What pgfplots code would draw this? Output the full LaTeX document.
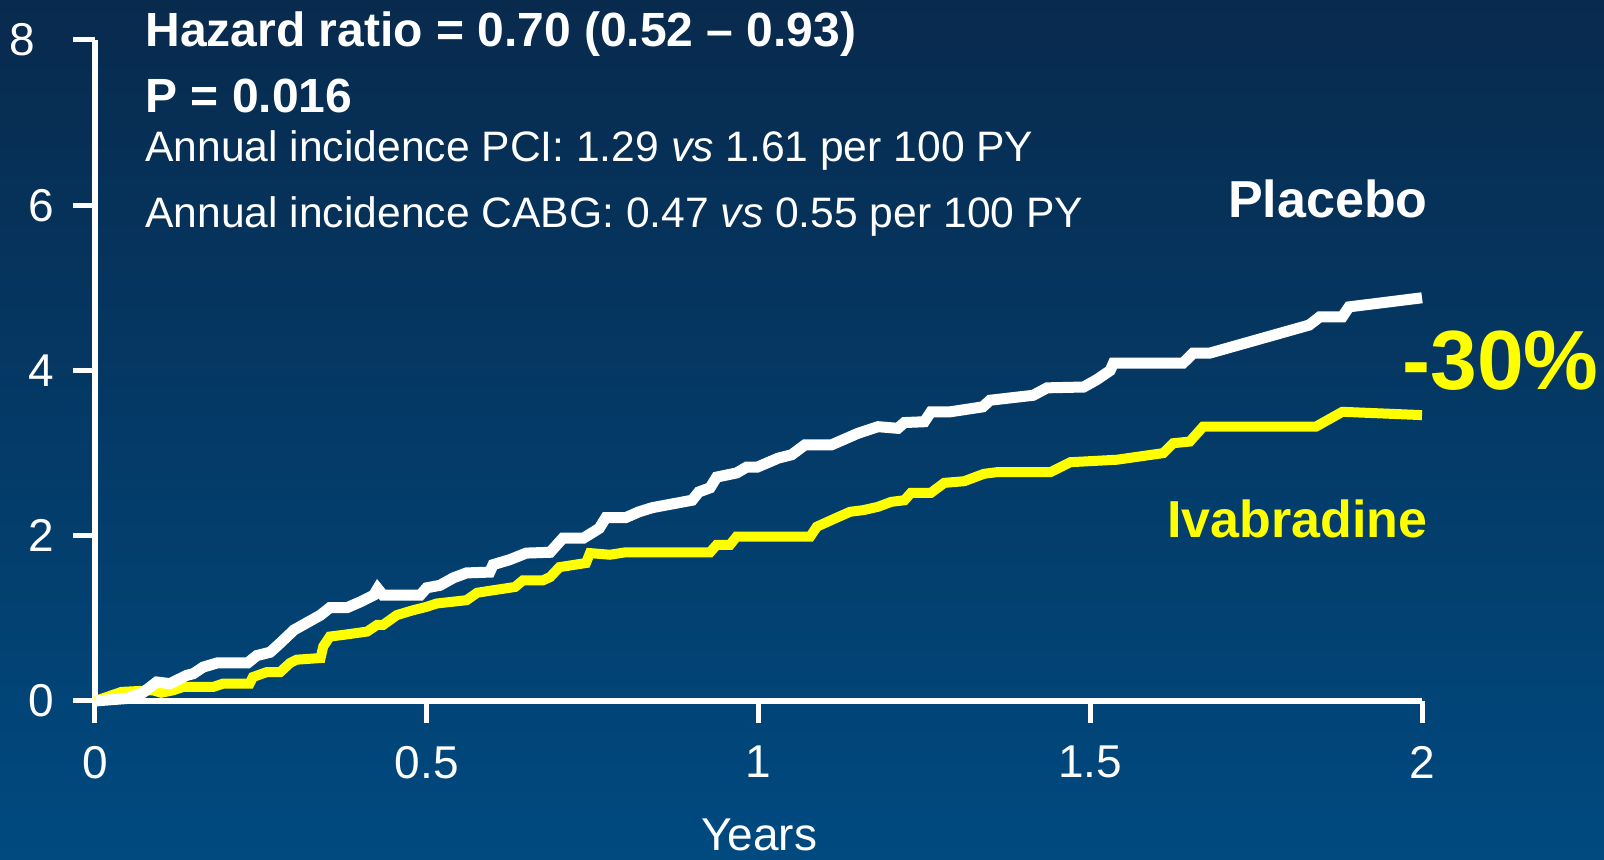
\documentclass[border=0pt]{standalone}
\usepackage{fontspec}
\setmainfont{Liberation Sans}
\usepackage{pgfplots}
\pgfplotsset{compat=1.18}
\definecolor{bgtop}{HTML}{082A4D}
\definecolor{bgmid}{HTML}{023F70}
\definecolor{bgbot}{HTML}{004A80}
\definecolor{ivy}{HTML}{FFFF00}
\begin{document}
\begin{tikzpicture}
\path[use as bounding box] (0,0) rectangle (802pt,430pt);
\shade[top color=bgtop, middle color=bgmid, bottom color=bgbot] (0,0) rectangle (802pt,430pt);
\clip (0,0) rectangle (802pt,430pt);
\begin{axis}[
  at={(47.5pt,79.5pt)}, anchor=south west,
  scale only axis, width=663.5pt, height=330.5pt,
  xmin=0, xmax=2, ymin=0, ymax=8, enlargelimits=false,
  axis lines=left,
  axis line style={white, line width=3pt, -},
  xtick={0,0.5,1,1.5,2}, ytick={0,2,4,6},
  extra y ticks={8},
  extra y tick style={yticklabel style={xshift=-9.5pt}},
  tick align=outside, major tick length=11pt,
  tick style={white, line width=2.5pt},
  /pgf/number format/assume math mode=true,
  ticklabel style={font=\fontsize{23}{27}\selectfont, text=white},
  xticklabel style={/pgf/number format/fixed, yshift=-8pt},
  yticklabel style={xshift=-6pt},
  clip=false,
]
\addplot[ivy, line width=5pt] coordinates {
(0,0) (0.04,0.11) (0.087,0.13) (0.10,0.10) (0.118,0.13) (0.133,0.17) (0.178,0.17) (0.193,0.21) (0.233,0.21) (0.238,0.29) (0.259,0.35) (0.279,0.35) (0.294,0.46) (0.304,0.50) (0.34,0.52) (0.344,0.66) (0.354,0.78) (0.374,0.80) (0.41,0.84) (0.425,0.92) (0.434,0.92) (0.455,1.04) (0.48,1.10) (0.50,1.14) (0.515,1.18) (0.56,1.22) (0.576,1.31) (0.60,1.34) (0.633,1.38) (0.645,1.46) (0.675,1.46) (0.686,1.50) (0.70,1.62) (0.74,1.67) (0.746,1.79) (0.776,1.77) (0.80,1.80) (0.927,1.80) (0.937,1.89) (0.957,1.89) (0.967,1.99) (1.078,1.99) (1.088,2.11) (1.11,2.19) (1.138,2.29) (1.158,2.31) (1.18,2.35) (1.20,2.41) (1.22,2.43) (1.23,2.52) (1.26,2.52) (1.28,2.64) (1.31,2.66) (1.34,2.75) (1.36,2.77) (1.44,2.77) (1.47,2.89) (1.54,2.92) (1.61,3.0) (1.625,3.12) (1.65,3.14) (1.67,3.32) (1.84,3.32) (1.88,3.50) (2.0,3.46)
};
\addplot[white, line width=5.5pt] coordinates {
(0,0) (0.048,0.03) (0.072,0.10) (0.093,0.23) (0.113,0.21) (0.138,0.31) (0.148,0.33) (0.163,0.41) (0.184,0.46) (0.23,0.46) (0.244,0.55) (0.264,0.59) (0.279,0.70) (0.30,0.86) (0.34,1.04) (0.354,1.13) (0.38,1.13) (0.40,1.20) (0.42,1.28) (0.426,1.36) (0.434,1.28) (0.49,1.28) (0.50,1.37) (0.52,1.40) (0.54,1.49) (0.56,1.55) (0.595,1.56) (0.60,1.65) (0.625,1.71) (0.65,1.79) (0.686,1.80) (0.705,1.97) (0.736,1.97) (0.76,2.09) (0.77,2.22) (0.80,2.22) (0.82,2.29) (0.84,2.34) (0.90,2.43) (0.91,2.53) (0.927,2.58) (0.937,2.71) (0.967,2.76) (0.982,2.83) (0.998,2.83) (1.03,2.94) (1.05,2.98) (1.07,3.10) (1.11,3.10) (1.15,3.24) (1.18,3.32) (1.21,3.30) (1.22,3.37) (1.25,3.38) (1.26,3.50) (1.289,3.50) (1.338,3.56) (1.349,3.64) (1.414,3.70) (1.435,3.79) (1.49,3.80) (1.51,3.89) (1.53,4.0) (1.535,4.09) (1.64,4.09) (1.655,4.21) (1.68,4.21) (1.83,4.55) (1.846,4.65) (1.88,4.65) (1.89,4.77) (2.0,4.88)
};
\end{axis}
\node[anchor=base west, inner sep=0, text=white, font=\fontsize{24}{28}\selectfont\bfseries] at (72.5pt,406.5pt) {Hazard ratio = 0.70 (0.52 – 0.93)};
\node[anchor=base west, inner sep=0, text=white, font=\fontsize{24}{28}\selectfont\bfseries] at (72.5pt,373.5pt) {P = 0.016};
\node[anchor=base west, inner sep=0, text=white, font=\fontsize{21.3}{25}\selectfont] at (72.5pt,349pt) {Annual incidence PCI: 1.29 \textit{vs} 1.61 per 100 PY};
\node[anchor=base west, inner sep=0, text=white, font=\fontsize{21.3}{25}\selectfont] at (72.5pt,316pt) {Annual incidence CABG: 0.47 \textit{vs} 0.55 per 100 PY};
\node[anchor=base east, inner sep=0, text=white, font=\fontsize{26}{30}\selectfont\bfseries] at (714pt,321pt) {Placebo};
\node[anchor=base west, inner sep=0, text=ivy, font=\fontsize{42}{46}\selectfont\bfseries] at (701pt,235pt) {-30\%};
\node[anchor=base east, inner sep=0, text=ivy, font=\fontsize{26}{30}\selectfont\bfseries] at (714pt,161pt) {Ivabradine};
\node[anchor=base, inner sep=0, text=white, font=\fontsize{23}{27}\selectfont] at (379.5pt,4.5pt) {Years};
\end{tikzpicture}
\end{document}
